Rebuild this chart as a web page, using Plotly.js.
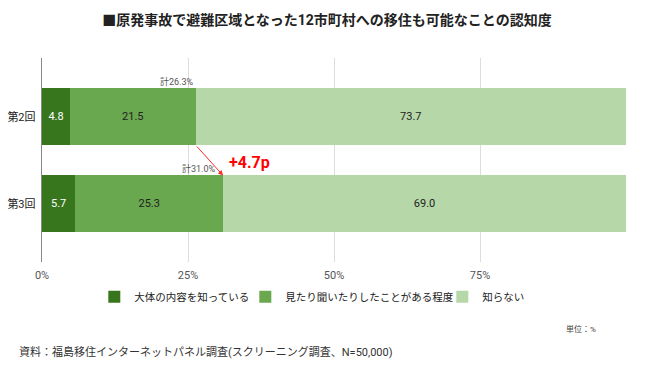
<!DOCTYPE html>
<html>
<head>
<meta charset="utf-8">
<script src="https://cdn.plot.ly/plotly-3.0.1.min.js"></script>
<style>html,body{margin:0;padding:0;background:#fff;}#chart{width:650px;height:365px;}</style>
</head>
<body>
<div id="chart"></div>
<script>
const categories = ['第2回', '第3回'];
const seriesNames = ['大体の内容を知っている', '見たり聞いたりしたことがある程度', '知らない'];
const knowWell = [4.8, 5.7];
const heardOf = [21.5, 25.3];
const dontKnow = [73.7, 69.0];
const totals = [26.3, 31.0];
const totalLabels = ['計26.3%', '計31.0%'];
const diffLabel = '+4.7p';
const tickVals = [0, 25, 50, 75, 100];
const tickText = ['0%', '25%', '50%', '75%', ''];

const colors = ['#38761d', '#6aa84f', '#b6d7a8'];
const textColors = ['#ffffff', '#222222', '#222222'];
const legendWidths = [106, 152, null];
const FONT = "Roboto, 'Noto Sans CJK JP', sans-serif";
const seriesVals = [knowWell, heardOf, dontKnow];

const traces = seriesVals.map((vals, i) => {
  const t = {
    type: 'bar',
    orientation: 'h',
    name: seriesNames[i],
    y: categories,
    x: vals,
    marker: {color: colors[i]},
    text: vals.map(v => v.toFixed(1)),
    textposition: 'inside',
    insidetextanchor: 'middle',
    textfont: {family: FONT, size: 11, color: textColors[i]},
    hoverinfo: 'skip',
    width: 0.65
  };
  if (legendWidths[i]) t.legendwidth = legendWidths[i];
  return t;
});

const halfBar = 0.325;
const annotations = [
  {x: totals[0], y: -0.41, xref: 'x', yref: 'y', text: totalLabels[0], showarrow: false,
   xanchor: 'right', font: {family: FONT, size: 9, color: '#555'}},
  {x: totals[1], y: 1 - 0.40, xref: 'x', yref: 'y', text: totalLabels[1], showarrow: false,
   xanchor: 'right', xshift: -5, font: {family: FONT, size: 9, color: '#555'}},
  {x: totals[1], y: 1 - halfBar, ax: totals[0], ay: 0 + halfBar, xref: 'x', yref: 'y', axref: 'x', ayref: 'y',
   text: '', showarrow: true, arrowhead: 2, arrowsize: 1, arrowwidth: 1, arrowcolor: '#ff2a2a', standoff: 0},
  {x: totals[1], y: 0.53, xref: 'x', yref: 'y', text: '<b>' + diffLabel + '</b>', showarrow: false,
   xanchor: 'left', xshift: 4, font: {family: FONT, size: 16, color: '#ff0000'}},
  {x: 598, y: 329, text: '単位：%', showarrow: false,
   xanchor: 'right', yanchor: 'middle', font: {family: FONT, size: 8, color: '#444'}},
  {x: 17, y: 352, text: '資料：福島移住インターネットパネル調査(スクリーニング調査、N=50,000)', showarrow: false,
   xanchor: 'left', yanchor: 'middle', font: {family: FONT, size: 11, color: '#333'}}
];
// convert pixel-positioned footer annotations into paper coords
const M = {l: 42, r: 23.5, t: 58, b: 103};
const PW = 650 - M.l - M.r, PH = 365 - M.t - M.b;
[annotations[4], annotations[5]].forEach(a => {
  a.xref = 'paper'; a.yref = 'paper';
  a.x = (a.x - M.l) / PW;
  a.y = (365 - M.b - a.y) / PH;
});

const layout = {
  width: 650, height: 365,
  margin: M,
  paper_bgcolor: '#fff', plot_bgcolor: '#fff',
  barmode: 'stack',
  bargap: 0.35,
  title: {text: '<b>■原発事故で避難区域となった12市町村への移住も可能なことの認知度</b>',
          font: {family: FONT, size: 14, color: '#222'}, x: 0.503, xanchor: 'center', y: 0.945, yanchor: 'middle'},
  xaxis: {range: [0, 100], tickvals: tickVals, ticktext: tickText, showgrid: true, gridcolor: '#dddddd',
          gridwidth: 1, zeroline: false, showline: false, ticks: '', ticklen: 0, ticklabelstandoff: 5,
          tickfont: {family: FONT, size: 11, color: '#555'}, fixedrange: true},
  yaxis: {range: [1.67, -0.675], showgrid: false, zeroline: false, showline: true, linecolor: '#888',
          linewidth: 1.5, ticks: '', tickfont: {family: FONT, size: 11, color: '#222'}, ticksuffix: ' ',
          fixedrange: true},
  showlegend: true,
  legend: {orientation: 'h', x: 0.462, xanchor: 'center', y: -0.17, yanchor: 'middle',
           font: {family: FONT, size: 10.5, color: '#222'}, itemwidth: 30, traceorder: 'normal'},
  annotations: annotations
};

Plotly.newPlot('chart', traces, layout, {displayModeBar: false, staticPlot: true});
</script>
</body>
</html>
